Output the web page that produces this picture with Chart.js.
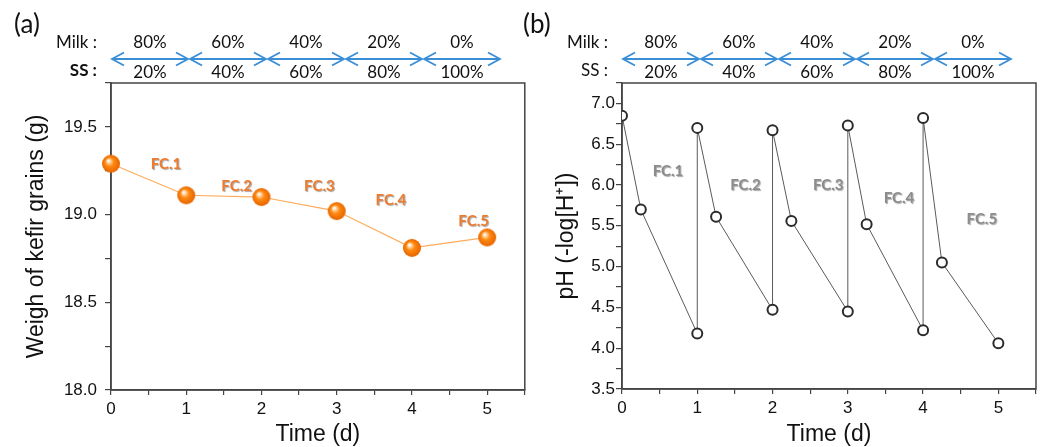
<!DOCTYPE html>
<html>
<head>
<meta charset="utf-8">
<script src="https://cdn.jsdelivr.net/npm/chart.js@4.4.1/dist/chart.umd.min.js"></script>
<style>
  body { margin: 0; background: #fff; width: 1043px; height: 447px; position: relative; overflow: hidden; }
  canvas { position: absolute; top: 0; }
  #chartA { left: 0; }
  #chartB { left: 515px; }
</style>
</head>
<body>
<canvas id="chartA" width="535" height="447"></canvas>
<canvas id="chartB" width="528" height="447"></canvas>
<script>
// mixing ratios shown above both panels
const milkShare = ['80%', '60%', '40%', '20%', '0%'];
const ssShare = ['20%', '40%', '60%', '80%', '100%'];

// (a) weight of kefir grains
const weighDays = [0, 1, 2, 3, 4, 5];
const grainWeight = [19.29, 19.11, 19.10, 19.02, 18.81, 18.87];

// (b) pH over the fermentation cycles
const phDays = [0, 0.25, 1, 1, 1.25, 2, 2, 2.25, 3, 3, 3.25, 4, 4, 4.25, 5];
const phValues = [6.85, 5.70, 4.18, 6.70, 5.61, 4.47, 6.67, 5.56, 4.45, 6.73, 5.52, 4.22, 6.82, 5.05, 4.06];

// cycle labels and where they sit (data units)
const cycleNames = ['FC.1', 'FC.2', 'FC.3', 'FC.4', 'FC.5'];
const weighLabelX = [0.73, 1.67, 2.77, 3.72, 4.82];
const weighLabelY = [19.29, 19.16, 19.16, 19.08, 18.965];
const phLabelX = [0.61, 1.64, 2.74, 3.68, 4.78];
const phLabelY = [6.17, 6.0, 6.0, 5.84, 5.58];

const tickFont = { family: 'Liberation Sans', size: 17 };
const titleFont = { family: 'Liberation Sans', size: 23, lineHeight: 1 };

// orange ball used as point marker in (a)
function makeSphere(r) {
    const c = document.createElement('canvas');
    const d = Math.ceil(r * 2) + 2;
    c.width = c.height = d;
    const g = c.getContext('2d');
    const cx = d / 2, cy = d / 2;
    const grad = g.createRadialGradient(cx - r * 0.3, cy - r * 0.35, r * 0.05, cx, cy, r);
    grad.addColorStop(0, '#ffffff');
    grad.addColorStop(0.18, '#ffd2a0');
    grad.addColorStop(0.45, '#ff8a10');
    grad.addColorStop(1, '#e66400');
    g.fillStyle = grad;
    g.beginPath();
    g.arc(cx, cy, r, 0, Math.PI * 2);
    g.fill();
    return c;
}

const xAxis = (h) => ({
    type: 'linear', min: 0, max: 5.5,
    afterFit: s => { s.height = h; },
    border: { color: '#444', width: 1.5 },
    grid: { drawOnChartArea: false, tickLength: 5, color: '#444', lineWidth: 1.2 },
    ticks: {
        stepSize: 0.5, autoSkip: false, maxRotation: 0, padding: 4, color: '#111', font: tickFont,
        callback: v => Number.isInteger(v) ? String(v) : ''
    },
    title: { display: true, text: 'Time (d)', color: '#111', font: titleFont, padding: { top: 0, bottom: 0.5 } }
});

const yAxis = (min, max, w, pad, text, titlePad) => ({
    min, max,
    afterFit: s => { s.width = w; },
    border: { color: '#444', width: 1.5 },
    grid: { drawOnChartArea: false, tickLength: 6, color: '#444', lineWidth: 1.2 },
    ticks: {
        stepSize: 0.25, autoSkip: false, padding: pad, color: '#111', font: tickFont,
        callback: v => Math.abs(v * 2 - Math.round(v * 2)) < 1e-6 ? v.toFixed(1) : ''
    },
    title: { display: true, text, color: '#111', font: titleFont, padding: { top: titlePad, bottom: 0 } }
});

// header: panel tag, Milk/SS ratios with arrows, plus the plot frame
const headerPlugin = {
    id: 'header',
    beforeDatasetsDraw(chart, args, opts) {
        const ctx = chart.ctx;
        const area = chart.chartArea;
        const x0 = chart.scales.x.getPixelForValue(0);
        ctx.save();
        ctx.fillStyle = '#111';
        ctx.textBaseline = 'middle';
        ctx.textAlign = 'left';
        ctx.font = '26px Lato';
        ctx.fillText(opts.tag, opts.tagX, 25);
        ctx.textAlign = 'right';
        ctx.font = '17px Lato';
        ctx.fillText('Milk :', area.left - 14, 43);
        ctx.font = (opts.ssBold ? 'bold ' : '') + '17px Lato';
        ctx.fillText('SS :', area.left - 14, 71);

        ctx.strokeStyle = '#3a8ed6';
        ctx.lineWidth = 1.8;
        ctx.textAlign = 'center';
        ctx.font = '17px Lato';
        milkShare.forEach((m, i) => {
            const a = x0 + 1 + i * 78, b = a + 76, y = 59;
            ctx.beginPath();
            ctx.moveTo(a, y); ctx.lineTo(b, y);
            ctx.moveTo(a + 12, y - 6.5); ctx.lineTo(a, y); ctx.lineTo(a + 12, y + 6.5);
            ctx.moveTo(b - 12, y - 6.5); ctx.lineTo(b, y); ctx.lineTo(b - 12, y + 6.5);
            ctx.stroke();
            ctx.fillText(m, (a + b) / 2, 43);
            ctx.fillText(ssShare[i], (a + b) / 2, 73);
        });

        ctx.strokeStyle = '#444';
        ctx.lineWidth = 1.5;
        ctx.strokeRect(area.left, area.top, area.right - area.left, area.bottom - area.top);
        ctx.restore();
    }
};

// FC.n labels inside the plot
const cyclePlugin = {
    id: 'cycles',
    afterDatasetsDraw(chart, args, opts) {
        const ctx = chart.ctx;
        const { x, y } = chart.scales;
        ctx.save();
        ctx.font = 'bold 15px Lato';
        ctx.textAlign = 'center';
        ctx.textBaseline = 'middle';
        ctx.fillStyle = opts.color;
        ctx.shadowColor = 'rgba(0,0,0,0.35)';
        ctx.shadowOffsetX = 1;
        ctx.shadowOffsetY = 1;
        ctx.shadowBlur = 1;
        cycleNames.forEach((name, i) => {
            ctx.fillText(name, x.getPixelForValue(opts.xs[i]), y.getPixelForValue(opts.ys[i]));
        });
        ctx.restore();
    }
};

const common = {
    responsive: false,
    animation: false,
    events: [],
    plugins: { legend: { display: false }, tooltip: { enabled: false } }
};

new Chart(document.getElementById('chartA'), {
    type: 'line',
    data: {
        datasets: [{
            data: weighDays.map((d, i) => ({ x: d, y: grainWeight[i] })),
            borderColor: '#ffab5c',
            borderWidth: 1.2,
            pointStyle: makeSphere(9),
            pointRadius: 9,
            clip: false
        }]
    },
    options: {
        ...common,
        layout: { padding: { top: 83, right: 8, left: 0, bottom: 0 } },
        scales: {
            x: xAxis(57),
            y: yAxis(18, 19.75, 111, 8, 'Weigh of kefir grains (g)', 25.5)
        },
        plugins: {
            ...common.plugins,
            header: { tag: '(a)', tagX: 14, ssBold: true },
            cycles: { xs: weighLabelX, ys: weighLabelY, color: '#f07a2c' }
        }
    },
    plugins: [headerPlugin, cyclePlugin]
});

new Chart(document.getElementById('chartB'), {
    type: 'line',
    data: {
        datasets: [{
            data: phDays.map((d, i) => ({ x: d, y: phValues[i] })),
            borderColor: '#5a5a5a',
            borderWidth: 1,
            pointRadius: 5,
            pointBorderWidth: 2,
            pointBorderColor: '#2b2b2b',
            pointBackgroundColor: '#ffffff'
        }]
    },
    options: {
        ...common,
        layout: { padding: { top: 83, right: 5, left: 0, bottom: 0 } },
        scales: {
            x: xAxis(58),
            y: yAxis(3.5, 7.25, 107, 1, 'pH (-log[H\u207A])', 40.5)
        },
        plugins: {
            ...common.plugins,
            header: { tag: '(b)', tagX: 8, ssBold: false },
            cycles: { xs: phLabelX, ys: phLabelY, color: '#8c8c8c' }
        }
    },
    plugins: [headerPlugin, cyclePlugin]
});
</script>
</body>
</html>
